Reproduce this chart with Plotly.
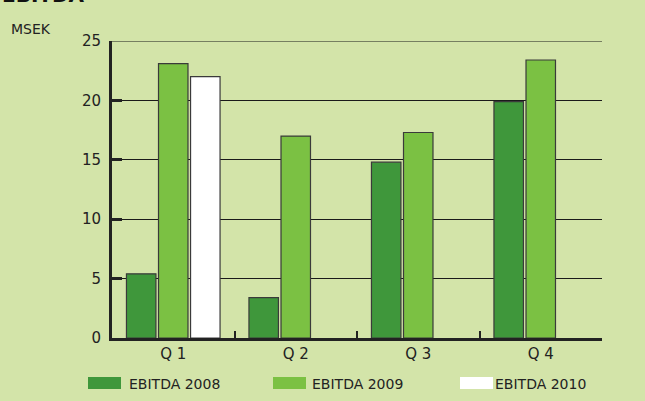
import plotly.graph_objects as go

categories = ["Q 1", "Q 2", "Q 3", "Q 4"]
series_names = ["EBITDA 2008", "EBITDA 2009", "EBITDA 2010"]
ebitda_2008 = [5.4, 3.4, 14.8, 19.9]
ebitda_2009 = [23.1, 17.0, 17.3, 23.4]
ebitda_2010 = [22.0, None, None, None]
y_ticks = [0, 5, 10, 15, 20, 25]

colors = ["#3f973b", "#7bc143", "#ffffff"]
bg = "#d3e4a9"
FONT = "DejaVu Sans"

fig = go.Figure()
for name, vals, col in zip(series_names, [ebitda_2008, ebitda_2009, ebitda_2010], colors):
    fig.add_trace(go.Bar(
        x=categories, y=vals, name=name,
        marker=dict(color=col, line=dict(color="#3a3a3a", width=1.2)),
        showlegend=False,
    ))

W, H = 645, 401
L, R, T, B = 112, 43, 41, 63
pw, ph = W - L - R, H - T - B

def px(xp):
    return (xp - L) / pw

def py(yp):
    return (H - B - yp) / ph

fig.update_layout(
    width=W, height=H,
    margin=dict(l=L, r=R, t=T, b=B),
    paper_bgcolor=bg, plot_bgcolor=bg,
    barmode="group", bargap=0.215, bargroupgap=0.08,
    font=dict(family=FONT, color="#222222"),
    xaxis=dict(
        showline=True, linecolor="#222222", linewidth=3,
        ticks="inside", tickson="boundaries", ticklen=7, tickwidth=2, tickcolor="#222222",
        tickfont=dict(size=15, color="#222222"), showgrid=False,
    ),
    yaxis=dict(
        range=[0, 25], tickvals=y_ticks, showline=True, linecolor="#222222", linewidth=3,
        ticks="inside", ticklen=10, tickwidth=2.5, tickcolor="#222222",
        showgrid=True, gridcolor="#1a1a1a", gridwidth=1, zeroline=False,
        tickfont=dict(size=15, color="#222222"), ticklabelstandoff=5,
    ),
)

# top gridline (plotly drops the grid line at the very edge of the range)
fig.add_shape(type="line", xref="paper", yref="y", x0=0, x1=1,
              y0=y_ticks[-1], y1=y_ticks[-1], layer="below",
              line=dict(color="#1a1a1a", width=1))

fig.add_annotation(text="<b>EBITDA</b>", xref="paper", yref="paper",
                   x=px(0), y=py(9), xanchor="left", yanchor="bottom",
                   showarrow=False, font=dict(size=20, family=FONT, color="#111111"))
fig.add_annotation(text="MSEK", xref="paper", yref="paper",
                   x=px(9), y=py(29), xanchor="left", yanchor="middle",
                   showarrow=False, font=dict(size=14, family=FONT, color="#222222"))

legend_x = [88, 273, 460]
text_x = [127, 310, 493]
for i, name in enumerate(series_names):
    fig.add_shape(type="rect", xref="paper", yref="paper",
                  x0=px(legend_x[i]), x1=px(legend_x[i] + 33),
                  y0=py(389), y1=py(377), fillcolor=colors[i], line=dict(width=0))
    fig.add_annotation(text=name, xref="paper", yref="paper",
                       x=px(text_x[i]), y=py(384), xanchor="left", yanchor="middle",
                       showarrow=False, font=dict(size=14, family=FONT, color="#222222"))

fig.write_html("out.html")
